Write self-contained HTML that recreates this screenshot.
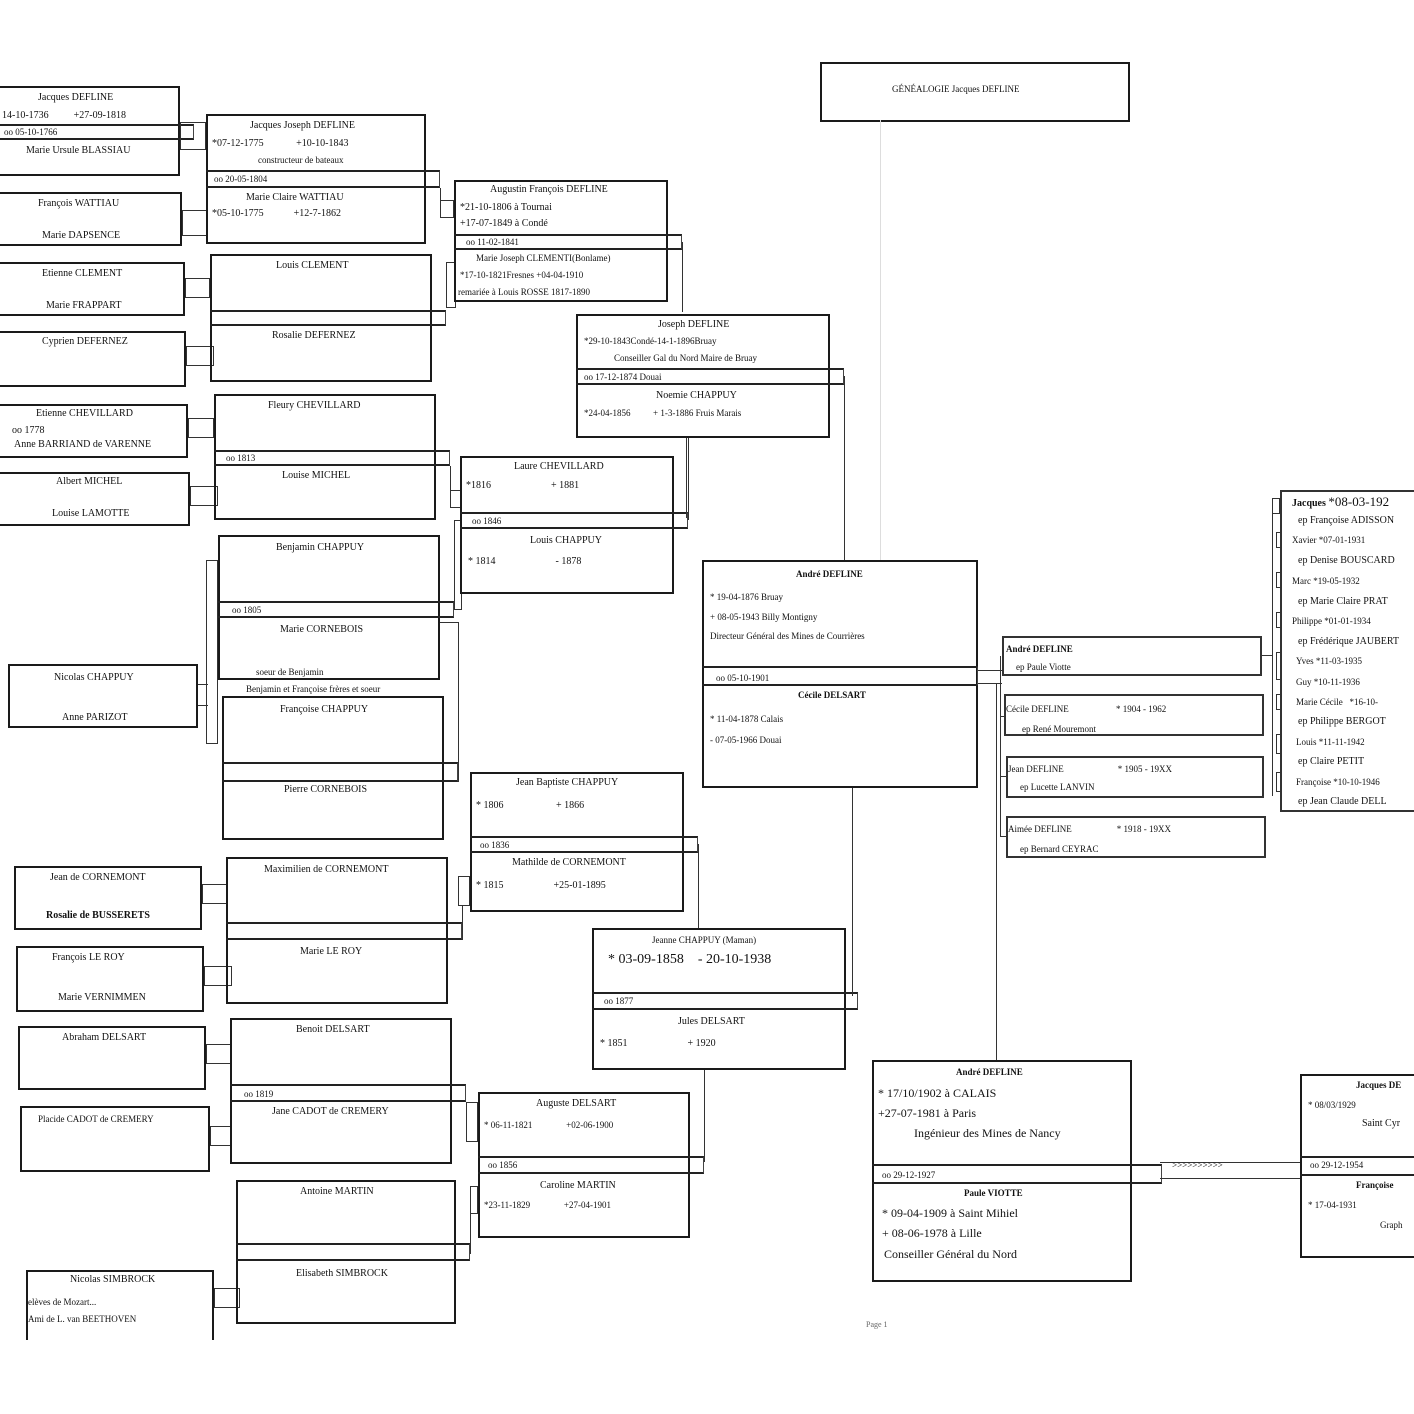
<!DOCTYPE html>
<html><head><meta charset="utf-8"><style>
html,body{margin:0;padding:0;background:#fff;}
#c{position:relative;width:1414px;height:1414px;overflow:hidden;background:#fff;}
.b{position:absolute;border:2px solid #1a1a1a;box-sizing:border-box;}
.n{position:absolute;border:1px solid #333;box-sizing:border-box;}
.t{position:absolute;font:10px "Liberation Serif",serif;white-space:nowrap;color:#111;}
.band{position:absolute;border-top:2px solid #222;border-bottom:2px solid #222;border-right:1px solid #444;box-sizing:border-box;}
.v{position:absolute;width:1px;background:#333;}
.h{position:absolute;height:1px;background:#333;}
.s{position:absolute;border:1px solid #333;box-sizing:border-box;width:12px;}
</style></head><body><div id="c">

<!-- Title -->
<div class="b" style="left:820px;top:62px;width:310px;height:60px"></div>
<div class="t" style="left:892px;top:84px;font-size:9px">GÉNÉALOGIE Jacques DEFLINE</div>

<!-- faint vertical -->
<div class="v" style="left:880px;top:120px;height:440px;background:#ddd"></div>

<!-- Column 1 -->
<div class="b" style="left:-4px;top:86px;width:184px;height:90px"></div>
<div class="t" style="left:38px;top:92px">Jacques DEFLINE</div>
<div class="t" style="left:2px;top:110px">14-10-1736 &nbsp;&nbsp;&nbsp;&nbsp;&nbsp;&nbsp;&nbsp;&nbsp; +27-09-1818</div>
<div class="band" style="left:-4px;top:124px;width:198px;height:16px"></div>
<div class="t" style="left:4px;top:127px;font-size:9px">oo 05-10-1766</div>
<div class="t" style="left:26px;top:145px">Marie Ursule BLASSIAU</div>

<div class="b" style="left:-4px;top:192px;width:186px;height:54px"></div>
<div class="t" style="left:38px;top:198px">François WATTIAU</div>
<div class="t" style="left:42px;top:230px">Marie DAPSENCE</div>

<div class="b" style="left:-4px;top:262px;width:189px;height:54px"></div>
<div class="t" style="left:42px;top:268px">Etienne CLEMENT</div>
<div class="t" style="left:46px;top:300px">Marie FRAPPART</div>

<div class="b" style="left:-4px;top:331px;width:190px;height:56px"></div>
<div class="t" style="left:42px;top:336px">Cyprien DEFERNEZ</div>

<div class="b" style="left:-4px;top:404px;width:192px;height:54px"></div>
<div class="t" style="left:36px;top:408px">Etienne CHEVILLARD</div>
<div class="t" style="left:12px;top:425px">oo 1778</div>
<div class="t" style="left:14px;top:439px">Anne BARRIAND de VARENNE</div>

<div class="b" style="left:-4px;top:472px;width:194px;height:54px"></div>
<div class="t" style="left:56px;top:476px">Albert MICHEL</div>
<div class="t" style="left:52px;top:508px">Louise LAMOTTE</div>

<div class="b" style="left:8px;top:664px;width:190px;height:64px"></div>
<div class="t" style="left:54px;top:672px">Nicolas CHAPPUY</div>
<div class="t" style="left:62px;top:712px">Anne PARIZOT</div>

<div class="b" style="left:14px;top:866px;width:188px;height:64px"></div>
<div class="t" style="left:50px;top:872px">Jean de CORNEMONT</div>
<div class="t" style="left:46px;top:910px;font-weight:bold">Rosalie de BUSSERETS</div>

<div class="b" style="left:16px;top:946px;width:188px;height:66px"></div>
<div class="t" style="left:52px;top:952px">François LE ROY</div>
<div class="t" style="left:58px;top:992px">Marie VERNIMMEN</div>

<div class="b" style="left:18px;top:1026px;width:188px;height:64px"></div>
<div class="t" style="left:62px;top:1032px">Abraham DELSART</div>

<div class="b" style="left:20px;top:1106px;width:190px;height:66px"></div>
<div class="t" style="left:38px;top:1114px;font-size:9px">Placide CADOT de CREMERY</div>

<div class="b" style="left:26px;top:1270px;width:188px;height:70px;border-bottom:none"></div>
<div class="t" style="left:70px;top:1274px">Nicolas SIMBROCK</div>
<div class="t" style="left:28px;top:1297px;font-size:9px">elèves de Mozart...</div>
<div class="t" style="left:28px;top:1314px;font-size:9px">Ami de L. van BEETHOVEN</div>

<!-- col1->col2 small connectors -->
<div class="s" style="left:180px;top:122px;height:28px;width:26px"></div>
<div class="s" style="left:182px;top:210px;height:26px;width:26px"></div>
<div class="s" style="left:185px;top:278px;height:20px;width:25px"></div>
<div class="s" style="left:186px;top:346px;height:20px;width:28px"></div>
<div class="s" style="left:188px;top:418px;height:20px;width:26px"></div>
<div class="s" style="left:190px;top:486px;height:20px;width:28px"></div>
<div class="s" style="left:206px;top:560px;height:184px;width:12px"></div>
<div class="h" style="left:198px;top:684px;width:10px"></div>
<div class="h" style="left:198px;top:705px;width:10px"></div>
<div class="s" style="left:202px;top:884px;height:20px;width:26px"></div>
<div class="s" style="left:204px;top:966px;height:20px;width:28px"></div>
<div class="s" style="left:206px;top:1044px;height:20px;width:26px"></div>
<div class="s" style="left:210px;top:1126px;height:20px;width:22px"></div>
<div class="s" style="left:214px;top:1288px;height:20px;width:26px"></div>

<!-- Column 2 -->
<div class="b" style="left:206px;top:114px;width:220px;height:130px"></div>
<div class="band" style="left:206px;top:170px;width:234px;height:18px"></div>
<div class="t" style="left:250px;top:120px">Jacques Joseph DEFLINE</div>
<div class="t" style="left:212px;top:138px">*07-12-1775 &nbsp;&nbsp;&nbsp;&nbsp;&nbsp;&nbsp;&nbsp;&nbsp;&nbsp;&nbsp;&nbsp; +10-10-1843</div>
<div class="t" style="left:258px;top:155px;font-size:9px">constructeur de bateaux</div>
<div class="t" style="left:214px;top:174px;font-size:9px">oo 20-05-1804</div>
<div class="t" style="left:246px;top:192px">Marie Claire WATTIAU</div>
<div class="t" style="left:212px;top:208px">*05-10-1775 &nbsp;&nbsp;&nbsp;&nbsp;&nbsp;&nbsp;&nbsp;&nbsp;&nbsp;&nbsp; +12-7-1862</div>

<div class="b" style="left:210px;top:254px;width:222px;height:128px"></div>
<div class="band" style="left:210px;top:310px;width:236px;height:16px"></div>
<div class="t" style="left:276px;top:260px">Louis CLEMENT</div>
<div class="t" style="left:272px;top:330px">Rosalie DEFERNEZ</div>

<div class="b" style="left:214px;top:394px;width:222px;height:126px"></div>
<div class="band" style="left:214px;top:450px;width:236px;height:16px"></div>
<div class="t" style="left:268px;top:400px">Fleury CHEVILLARD</div>
<div class="t" style="left:226px;top:453px;font-size:9px">oo 1813</div>
<div class="t" style="left:282px;top:470px">Louise MICHEL</div>

<div class="b" style="left:218px;top:535px;width:222px;height:145px"></div>
<div class="band" style="left:218px;top:601px;width:236px;height:17px"></div>
<div class="t" style="left:276px;top:542px">Benjamin CHAPPUY</div>
<div class="t" style="left:232px;top:605px;font-size:9px">oo 1805</div>
<div class="t" style="left:280px;top:624px">Marie CORNEBOIS</div>
<div class="t" style="left:256px;top:667px;font-size:9px">soeur de Benjamin</div>
<div class="t" style="left:246px;top:684px;font-size:9px">Benjamin et Françoise frères et soeur</div>

<div class="b" style="left:222px;top:696px;width:222px;height:144px"></div>
<div class="band" style="left:222px;top:762px;width:236px;height:20px"></div>
<div class="t" style="left:280px;top:704px">Françoise CHAPPUY</div>
<div class="t" style="left:284px;top:784px">Pierre CORNEBOIS</div>
<div class="v" style="left:458px;top:622px;height:160px"></div>
<div class="h" style="left:440px;top:622px;width:18px"></div>

<div class="b" style="left:226px;top:857px;width:222px;height:147px"></div>
<div class="band" style="left:226px;top:922px;width:236px;height:18px"></div>
<div class="t" style="left:264px;top:864px">Maximilien de CORNEMONT</div>
<div class="t" style="left:300px;top:946px">Marie LE ROY</div>

<div class="b" style="left:230px;top:1018px;width:222px;height:146px"></div>
<div class="band" style="left:230px;top:1084px;width:236px;height:18px"></div>
<div class="t" style="left:296px;top:1024px">Benoit DELSART</div>
<div class="t" style="left:244px;top:1089px;font-size:9px">oo 1819</div>
<div class="t" style="left:272px;top:1106px">Jane CADOT de CREMERY</div>

<div class="b" style="left:236px;top:1180px;width:220px;height:144px"></div>
<div class="band" style="left:236px;top:1243px;width:234px;height:18px"></div>
<div class="t" style="left:300px;top:1186px">Antoine MARTIN</div>
<div class="t" style="left:296px;top:1268px">Elisabeth SIMBROCK</div>

<!-- col2->col3 connectors -->
<div class="s" style="left:440px;top:200px;height:18px;width:14px"></div>
<div class="v" style="left:440px;top:188px;height:12px"></div>
<div class="s" style="left:446px;top:262px;height:46px;width:10px"></div>
<div class="s" style="left:450px;top:490px;height:18px;width:12px"></div>
<div class="v" style="left:450px;top:466px;height:24px"></div>
<div class="s" style="left:454px;top:520px;height:90px;width:8px"></div>
<div class="s" style="left:458px;top:876px;height:30px;width:12px"></div>
<div class="v" style="left:462px;top:906px;height:34px"></div>
<div class="s" style="left:466px;top:1102px;height:40px;width:12px"></div>
<div class="s" style="left:470px;top:1186px;height:28px;width:8px"></div>
<div class="v" style="left:470px;top:1214px;height:40px"></div>

<!-- Column 3 -->
<div class="b" style="left:454px;top:180px;width:214px;height:122px"></div>
<div class="band" style="left:454px;top:234px;width:228px;height:16px"></div>
<div class="t" style="left:490px;top:184px">Augustin François DEFLINE</div>
<div class="t" style="left:460px;top:202px">*21-10-1806 à Tournai</div>
<div class="t" style="left:460px;top:218px">+17-07-1849 à Condé</div>
<div class="t" style="left:466px;top:237px;font-size:9px">oo 11-02-1841</div>
<div class="t" style="left:476px;top:253px;font-size:9px">Marie Joseph CLEMENTI(Bonlame)</div>
<div class="t" style="left:460px;top:270px;font-size:9px">*17-10-1821Fresnes +04-04-1910</div>
<div class="t" style="left:458px;top:287px;font-size:9px">remariée à Louis ROSSE 1817-1890</div>
<div class="v" style="left:682px;top:242px;height:70px"></div>

<div class="b" style="left:460px;top:456px;width:214px;height:138px"></div>
<div class="band" style="left:460px;top:512px;width:228px;height:17px"></div>
<div class="t" style="left:514px;top:461px">Laure CHEVILLARD</div>
<div class="t" style="left:466px;top:480px">*1816 &nbsp;&nbsp;&nbsp;&nbsp;&nbsp;&nbsp;&nbsp;&nbsp;&nbsp;&nbsp;&nbsp;&nbsp;&nbsp;&nbsp;&nbsp;&nbsp;&nbsp;&nbsp;&nbsp;&nbsp;&nbsp;&nbsp; + 1881</div>
<div class="t" style="left:472px;top:516px;font-size:9px">oo 1846</div>
<div class="t" style="left:530px;top:535px">Louis CHAPPUY</div>
<div class="t" style="left:468px;top:556px">* 1814 &nbsp;&nbsp;&nbsp;&nbsp;&nbsp;&nbsp;&nbsp;&nbsp;&nbsp;&nbsp;&nbsp;&nbsp;&nbsp;&nbsp;&nbsp;&nbsp;&nbsp;&nbsp;&nbsp;&nbsp;&nbsp;&nbsp; - 1878</div>
<div class="v" style="left:688px;top:438px;height:82px"></div>

<div class="b" style="left:470px;top:772px;width:214px;height:140px"></div>
<div class="band" style="left:470px;top:836px;width:228px;height:17px"></div>
<div class="t" style="left:516px;top:777px">Jean Baptiste CHAPPUY</div>
<div class="t" style="left:476px;top:800px">* 1806 &nbsp;&nbsp;&nbsp;&nbsp;&nbsp;&nbsp;&nbsp;&nbsp;&nbsp;&nbsp;&nbsp;&nbsp;&nbsp;&nbsp;&nbsp;&nbsp;&nbsp;&nbsp;&nbsp; + 1866</div>
<div class="t" style="left:480px;top:840px;font-size:9px">oo 1836</div>
<div class="t" style="left:512px;top:857px">Mathilde de CORNEMONT</div>
<div class="t" style="left:476px;top:880px">* 1815 &nbsp;&nbsp;&nbsp;&nbsp;&nbsp;&nbsp;&nbsp;&nbsp;&nbsp;&nbsp;&nbsp;&nbsp;&nbsp;&nbsp;&nbsp;&nbsp;&nbsp;&nbsp; +25-01-1895</div>
<div class="v" style="left:698px;top:844px;height:84px"></div>

<div class="b" style="left:478px;top:1092px;width:212px;height:146px"></div>
<div class="band" style="left:478px;top:1156px;width:226px;height:18px"></div>
<div class="t" style="left:536px;top:1098px">Auguste DELSART</div>
<div class="t" style="left:484px;top:1120px;font-size:9px">* 06-11-1821 &nbsp;&nbsp;&nbsp;&nbsp;&nbsp;&nbsp;&nbsp;&nbsp;&nbsp;&nbsp;&nbsp;&nbsp;&nbsp; +02-06-1900</div>
<div class="t" style="left:488px;top:1160px;font-size:9px">oo 1856</div>
<div class="t" style="left:540px;top:1180px">Caroline MARTIN</div>
<div class="t" style="left:484px;top:1200px;font-size:9px">*23-11-1829 &nbsp;&nbsp;&nbsp;&nbsp;&nbsp;&nbsp;&nbsp;&nbsp;&nbsp;&nbsp;&nbsp;&nbsp;&nbsp; +27-04-1901</div>
<div class="v" style="left:704px;top:1070px;height:92px"></div>

<!-- Column 4 -->
<div class="b" style="left:576px;top:314px;width:254px;height:124px"></div>
<div class="band" style="left:576px;top:368px;width:268px;height:17px"></div>
<div class="t" style="left:658px;top:319px">Joseph DEFLINE</div>
<div class="t" style="left:584px;top:336px;font-size:9px">*29-10-1843Condé-14-1-1896Bruay</div>
<div class="t" style="left:614px;top:353px;font-size:9px">Conseiller Gal du Nord Maire de Bruay</div>
<div class="t" style="left:584px;top:372px;font-size:9px">oo 17-12-1874 Douai</div>
<div class="t" style="left:656px;top:390px">Noemie CHAPPUY</div>
<div class="t" style="left:584px;top:408px;font-size:9px">*24-04-1856 &nbsp;&nbsp;&nbsp;&nbsp;&nbsp;&nbsp;&nbsp;&nbsp; + 1-3-1886 Fruis Marais</div>
<div class="v" style="left:844px;top:376px;height:184px"></div>
<div class="v" style="left:686px;top:438px;height:80px"></div>

<div class="b" style="left:592px;top:928px;width:254px;height:142px"></div>
<div class="band" style="left:592px;top:992px;width:266px;height:18px"></div>
<div class="t" style="left:652px;top:935px;font-size:9px">Jeanne CHAPPUY (Maman)</div>
<div class="t" style="left:608px;top:952px;font-size:14px">* 03-09-1858 &nbsp;&nbsp; - 20-10-1938</div>
<div class="t" style="left:604px;top:996px;font-size:9px">oo 1877</div>
<div class="t" style="left:678px;top:1016px">Jules DELSART</div>
<div class="t" style="left:600px;top:1038px">* 1851 &nbsp;&nbsp;&nbsp;&nbsp;&nbsp;&nbsp;&nbsp;&nbsp;&nbsp;&nbsp;&nbsp;&nbsp;&nbsp;&nbsp;&nbsp;&nbsp;&nbsp;&nbsp;&nbsp;&nbsp;&nbsp;&nbsp; + 1920</div>
<div class="v" style="left:852px;top:786px;height:210px"></div>

<!-- Column 5: André / Cécile -->
<div class="b" style="left:702px;top:560px;width:276px;height:228px"></div>
<div class="band" style="left:702px;top:666px;width:276px;height:20px"></div>
<div class="t" style="left:796px;top:569px;font-weight:bold;font-size:9px">André DEFLINE</div>
<div class="t" style="left:710px;top:592px;font-size:9px">* 19-04-1876 Bruay</div>
<div class="t" style="left:710px;top:612px;font-size:9px">+ 08-05-1943 Billy Montigny</div>
<div class="t" style="left:710px;top:631px;font-size:9px">Directeur Général des Mines de Courrières</div>
<div class="t" style="left:716px;top:673px;font-size:9px">oo 05-10-1901</div>
<div class="t" style="left:798px;top:690px;font-weight:bold;font-size:9px">Cécile DELSART</div>
<div class="t" style="left:710px;top:714px;font-size:9px">* 11-04-1878 Calais</div>
<div class="t" style="left:710px;top:735px;font-size:9px">- 07-05-1966 Douai</div>

<!-- children connector -->
<div class="h" style="left:978px;top:670px;width:24px"></div>
<div class="h" style="left:978px;top:683px;width:24px"></div>
<div class="v" style="left:996px;top:683px;height:378px"></div>
<div class="v" style="left:1000px;top:656px;height:180px"></div>
<div class="h" style="left:1000px;top:716px;width:6px"></div>
<div class="h" style="left:1000px;top:776px;width:6px"></div>
<div class="h" style="left:1000px;top:836px;width:6px"></div>

<div class="n" style="left:1002px;top:636px;width:260px;height:40px;border-width:2px"></div>
<div class="t" style="left:1006px;top:644px;font-weight:bold;font-size:9px">André DEFLINE</div>
<div class="t" style="left:1016px;top:662px;font-size:9px">ep Paule Viotte</div>
<div class="n" style="left:1004px;top:694px;width:260px;height:42px;border-width:2px"></div>
<div class="t" style="left:1006px;top:704px;font-size:9px">Cécile DEFLINE &nbsp;&nbsp;&nbsp;&nbsp;&nbsp;&nbsp;&nbsp;&nbsp;&nbsp;&nbsp;&nbsp;&nbsp;&nbsp;&nbsp;&nbsp;&nbsp;&nbsp;&nbsp;&nbsp; * 1904 - 1962</div>
<div class="t" style="left:1022px;top:724px;font-size:9px">ep René Mouremont</div>
<div class="n" style="left:1006px;top:756px;width:258px;height:42px;border-width:2px"></div>
<div class="t" style="left:1008px;top:764px;font-size:9px">Jean DEFLINE &nbsp;&nbsp;&nbsp;&nbsp;&nbsp;&nbsp;&nbsp;&nbsp;&nbsp;&nbsp;&nbsp;&nbsp;&nbsp;&nbsp;&nbsp;&nbsp;&nbsp;&nbsp;&nbsp;&nbsp;&nbsp;&nbsp; * 1905 - 19XX</div>
<div class="t" style="left:1020px;top:782px;font-size:9px">ep Lucette LANVIN</div>
<div class="n" style="left:1006px;top:816px;width:260px;height:42px;border-width:2px"></div>
<div class="t" style="left:1008px;top:824px;font-size:9px">Aimée DEFLINE &nbsp;&nbsp;&nbsp;&nbsp;&nbsp;&nbsp;&nbsp;&nbsp;&nbsp;&nbsp;&nbsp;&nbsp;&nbsp;&nbsp;&nbsp;&nbsp;&nbsp;&nbsp; * 1918 - 19XX</div>
<div class="t" style="left:1020px;top:844px;font-size:9px">ep Bernard CEYRAC</div>

<!-- grandchildren -->
<div class="h" style="left:1262px;top:655px;width:10px"></div>
<div class="v" style="left:1272px;top:500px;height:296px"></div>
<div class="n" style="left:1280px;top:490px;width:150px;height:322px;border-width:2px"></div>
<div class="t" style="left:1292px;top:494px;font-size:10px"><b>Jacques</b> <span style="font-size:13px">*08-03-192</span></div>
<div class="t" style="left:1298px;top:515px;font-size:10px">ep Françoise ADISSON</div>
<div class="t" style="left:1292px;top:535px;font-size:9px">Xavier *07-01-1931</div>
<div class="t" style="left:1298px;top:555px;font-size:10px">ep Denise BOUSCARD</div>
<div class="t" style="left:1292px;top:576px;font-size:9px">Marc *19-05-1932</div>
<div class="t" style="left:1298px;top:596px;font-size:10px">ep Marie Claire PRAT</div>
<div class="t" style="left:1292px;top:616px;font-size:9px">Philippe *01-01-1934</div>
<div class="t" style="left:1298px;top:636px;font-size:10px">ep Frédérique JAUBERT</div>
<div class="t" style="left:1296px;top:656px;font-size:9px">Yves *11-03-1935</div>
<div class="t" style="left:1296px;top:677px;font-size:9px">Guy *10-11-1936</div>
<div class="t" style="left:1296px;top:697px;font-size:9px">Marie Cécile &nbsp; *16-10-</div>
<div class="t" style="left:1298px;top:716px;font-size:10px">ep Philippe BERGOT</div>
<div class="t" style="left:1296px;top:737px;font-size:9px">Louis *11-11-1942</div>
<div class="t" style="left:1298px;top:756px;font-size:10px">ep Claire PETIT</div>
<div class="t" style="left:1296px;top:777px;font-size:9px">Françoise *10-10-1946</div>
<div class="t" style="left:1298px;top:796px;font-size:10px">ep Jean Claude DELL</div>
<div class="s" style="left:1272px;top:498px;height:16px;width:8px"></div>
<div class="s" style="left:1276px;top:532px;height:16px;width:6px"></div>
<div class="s" style="left:1276px;top:572px;height:16px;width:6px"></div>
<div class="s" style="left:1276px;top:612px;height:16px;width:6px"></div>
<div class="s" style="left:1276px;top:652px;height:28px;width:6px"></div>
<div class="s" style="left:1276px;top:694px;height:16px;width:6px"></div>
<div class="s" style="left:1276px;top:734px;height:20px;width:6px"></div>
<div class="s" style="left:1276px;top:772px;height:20px;width:6px"></div>

<!-- André / Paule -->
<div class="b" style="left:872px;top:1060px;width:260px;height:222px"></div>
<div class="band" style="left:872px;top:1164px;width:290px;height:20px"></div>
<div class="t" style="left:956px;top:1067px;font-weight:bold;font-size:9px">André DEFLINE</div>
<div class="t" style="left:878px;top:1086px;font-size:12px">* 17/10/1902 à CALAIS</div>
<div class="t" style="left:878px;top:1106px;font-size:12px">+27-07-1981 à Paris</div>
<div class="t" style="left:914px;top:1126px;font-size:12px">Ingénieur des Mines de Nancy</div>
<div class="t" style="left:882px;top:1170px;font-size:9px">oo 29-12-1927</div>
<div class="t" style="left:964px;top:1188px;font-weight:bold;font-size:9px">Paule VIOTTE</div>
<div class="t" style="left:882px;top:1206px;font-size:12px">* 09-04-1909 à Saint Mihiel</div>
<div class="t" style="left:882px;top:1226px;font-size:12px">+ 08-06-1978 à Lille</div>
<div class="t" style="left:884px;top:1247px;font-size:12px">Conseiller Général du Nord</div>
<div class="h" style="left:1160px;top:1162px;width:142px"></div>
<div class="h" style="left:1160px;top:1178px;width:142px"></div>
<div class="t" style="left:1172px;top:1160px;font-size:9px">&gt;&gt;&gt;&gt;&gt;&gt;&gt;&gt;&gt;&gt;</div>

<div class="b" style="left:1300px;top:1074px;width:130px;height:184px"></div>
<div class="band" style="left:1300px;top:1156px;width:130px;height:20px"></div>
<div class="t" style="left:1356px;top:1080px;font-weight:bold;font-size:9px">Jacques DE</div>
<div class="t" style="left:1308px;top:1100px;font-size:9px">* 08/03/1929</div>
<div class="t" style="left:1362px;top:1118px;font-size:10px">Saint Cyr</div>
<div class="t" style="left:1310px;top:1160px;font-size:9px">oo 29-12-1954</div>
<div class="t" style="left:1356px;top:1180px;font-weight:bold;font-size:9px">Françoise</div>
<div class="t" style="left:1308px;top:1200px;font-size:9px">* 17-04-1931</div>
<div class="t" style="left:1380px;top:1220px;font-size:9px">Graph</div>

<div class="t" style="left:866px;top:1320px;font-size:8px;color:#666">Page 1</div>

</div></body></html>
